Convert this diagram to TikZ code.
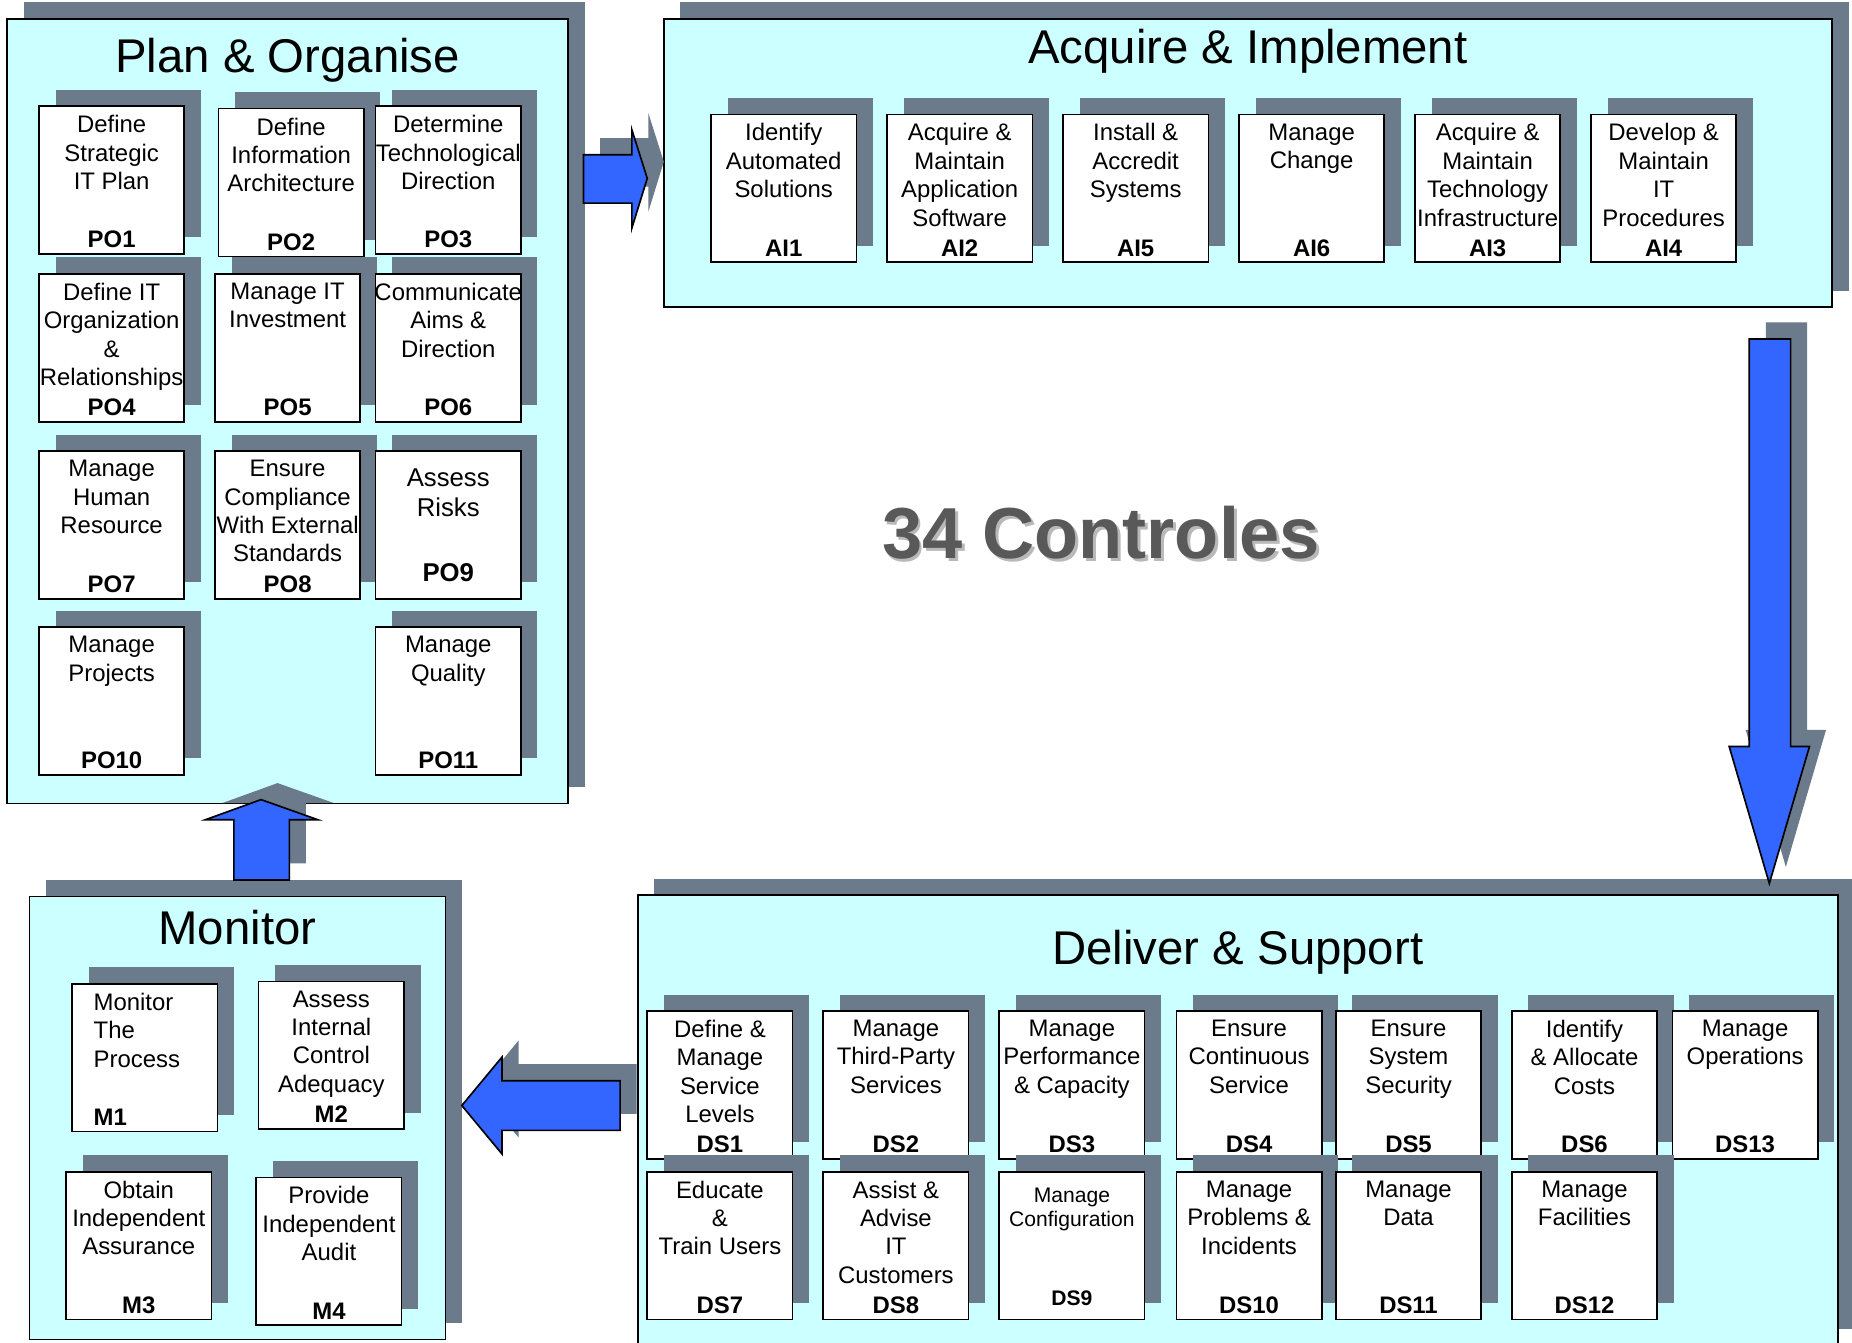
\documentclass[tikz,border=0pt]{standalone}
\usepackage{fontspec}
\setmainfont{Liberation Sans}
\usepackage{xcolor}
\usepackage{tikz}
\usetikzlibrary{positioning,shadows}
\definecolor{panelcyan}{RGB}{204,255,255}
\definecolor{shadegrey}{RGB}{107,123,139}
\definecolor{arrowblue}{RGB}{51,102,255}
\definecolor{countgrey}{RGB}{89,89,89}
\definecolor{countlight}{RGB}{185,185,185}

\begin{document}
\begin{tikzpicture}[x=0.025cm, y=-0.025cm,
  greyshadow/.style={drop shadow={shadow xshift=0.35cm, shadow yshift=0.35cm, opacity=1, fill=shadegrey}},
  panel/.style={greyshadow, draw=black, line width=1pt, fill=panelcyan, anchor=north west, inner sep=0pt, outer sep=0pt},
  ctrlbox/.style={greyshadow, draw=black, line width=1pt, fill=white, anchor=north west, minimum width=3.075cm, minimum height=3.125cm, inner sep=0pt, outer sep=0pt},
  boxtext/.style={align=center, inner sep=0pt, font=\fontsize{14.4}{17.1}\selectfont, execute at begin node=\strut},
  boxcode/.style={inner sep=0pt, text depth=0pt, font=\fontsize{14.4}{17.1}\selectfont\bfseries},
  phasetitle/.style={anchor=base, inner sep=0pt, font=\fontsize{28.5}{34}\selectfont},
  blockarrow/.style={draw=black, line width=1pt, fill=arrowblue, line join=miter},
  arrowshadow/.style={fill=shadegrey, xshift=0.35cm, yshift=0.35cm}]
  \useasboundingbox (0,0) rectangle (1568,1137);

  \node[panel, minimum width=11.875cm, minimum height=16.6cm] (po) at (6,16) {};
  \node[panel, minimum width=24.725cm, minimum height=6.1cm] (ai) at (562,16) {};
  \node[panel, minimum width=8.8cm, minimum height=9.375cm] (mo) at (25,759) {};
  \node[panel, minimum width=25.4cm, minimum height=9.525cm] (ds) at (540,758) {};

  \node[phasetitle] (potitle) at (243.5,61.5) {Plan \& Organise};
  \node[phasetitle] (aititle) at (1056.5,54) {Acquire \& Implement};
  \node[phasetitle] (motitle) at (201,799.5) {Monitor};
  \node[phasetitle] (dstitle) at (1048,817) {Deliver \& Support};

  \node[ctrlbox] (po1) at (33,90) {};
  \node[boxtext, below=0.185cm of po1.north] (po1t) {Define\\Strategic\\IT Plan};
  \node[boxcode, above=0.125cm of po1.south] (po1c) {PO1};
  \node[ctrlbox] (po2) at (185,92) {};
  \node[boxtext, below=0.185cm of po2.north] (po2t) {Define\\Information\\Architecture};
  \node[boxcode, above=0.125cm of po2.south] (po2c) {PO2};
  \node[ctrlbox] (po3) at (318,90) {};
  \node[boxtext, below=0.185cm of po3.north] (po3t) {Determine\\Technological\\Direction};
  \node[boxcode, above=0.125cm of po3.south] (po3c) {PO3};
  \node[ctrlbox] (po4) at (33,232) {};
  \node[boxtext, below=0.185cm of po4.north] (po4t) {Define IT\\Organization\\\&\\Relationships};
  \node[boxcode, above=0.125cm of po4.south] (po4c) {PO4};
  \node[ctrlbox] (po5) at (182,232) {};
  \node[boxtext, below=0.185cm of po5.north] (po5t) {Manage IT\\Investment};
  \node[boxcode, above=0.125cm of po5.south] (po5c) {PO5};
  \node[ctrlbox] (po6) at (318,232) {};
  \node[boxtext, below=0.185cm of po6.north] (po6t) {Communicate\\Aims \&\\Direction};
  \node[boxcode, above=0.125cm of po6.south] (po6c) {PO6};
  \node[ctrlbox] (po7) at (33,382) {};
  \node[boxtext, below=0.185cm of po7.north] (po7t) {Manage\\Human\\Resource};
  \node[boxcode, above=0.125cm of po7.south] (po7c) {PO7};
  \node[ctrlbox] (po8) at (182,382) {};
  \node[boxtext, below=0.185cm of po8.north] (po8t) {Ensure\\Compliance\\With External\\Standards};
  \node[boxcode, above=0.125cm of po8.south] (po8c) {PO8};
  \node[ctrlbox] (po9) at (318,382) {};
  \node[boxtext, font=\fontsize{15.5}{18.1}\selectfont, below=0.36cm of po9.north] (po9t) {Assess\\Risks};
  \node[boxcode, font=\fontsize{15.5}{18.1}\selectfont\bfseries, above=0.35cm of po9.south] (po9c) {PO9};
  \node[ctrlbox] (po10) at (33,531) {};
  \node[boxtext, below=0.185cm of po10.north] (po10t) {Manage\\Projects};
  \node[boxcode, above=0.125cm of po10.south] (po10c) {PO10};
  \node[ctrlbox] (po11) at (318,531) {};
  \node[boxtext, below=0.185cm of po11.north] (po11t) {Manage\\Quality};
  \node[boxcode, above=0.125cm of po11.south] (po11c) {PO11};

  \node[ctrlbox] (ai1) at (602,97) {};
  \node[boxtext, below=0.185cm of ai1.north] (ai1t) {Identify\\Automated\\Solutions};
  \node[boxcode, above=0.125cm of ai1.south] (ai1c) {AI1};
  \node[ctrlbox] (ai2) at (751,97) {};
  \node[boxtext, below=0.185cm of ai2.north] (ai2t) {Acquire \&\\Maintain\\Application\\Software};
  \node[boxcode, above=0.125cm of ai2.south] (ai2c) {AI2};
  \node[ctrlbox] (ai5) at (900,97) {};
  \node[boxtext, below=0.185cm of ai5.north] (ai5t) {Install \&\\Accredit\\Systems};
  \node[boxcode, above=0.125cm of ai5.south] (ai5c) {AI5};
  \node[ctrlbox] (ai6) at (1049,97) {};
  \node[boxtext, below=0.185cm of ai6.north] (ai6t) {Manage\\Change};
  \node[boxcode, above=0.125cm of ai6.south] (ai6c) {AI6};
  \node[ctrlbox] (ai3) at (1198,97) {};
  \node[boxtext, below=0.185cm of ai3.north] (ai3t) {Acquire \&\\Maintain\\Technology\\Infrastructure};
  \node[boxcode, above=0.125cm of ai3.south] (ai3c) {AI3};
  \node[ctrlbox] (ai4) at (1347,97) {};
  \node[boxtext, below=0.185cm of ai4.north] (ai4t) {Develop \&\\Maintain\\IT\\Procedures};
  \node[boxcode, above=0.125cm of ai4.south] (ai4c) {AI4};

  \node[ctrlbox] (ds1) at (548,856) {};
  \node[boxtext, below=0.185cm of ds1.north] (ds1t) {Define \&\\Manage\\Service\\Levels};
  \node[boxcode, above=0.125cm of ds1.south] (ds1c) {DS1};
  \node[ctrlbox] (ds2) at (697,856) {};
  \node[boxtext, below=0.185cm of ds2.north] (ds2t) {Manage\\Third-Party\\Services};
  \node[boxcode, above=0.125cm of ds2.south] (ds2c) {DS2};
  \node[ctrlbox] (ds3) at (846,856) {};
  \node[boxtext, below=0.185cm of ds3.north] (ds3t) {Manage\\Performance\\\& Capacity};
  \node[boxcode, above=0.125cm of ds3.south] (ds3c) {DS3};
  \node[ctrlbox] (ds4) at (996,856) {};
  \node[boxtext, below=0.185cm of ds4.north] (ds4t) {Ensure\\Continuous\\Service};
  \node[boxcode, above=0.125cm of ds4.south] (ds4c) {DS4};
  \node[ctrlbox] (ds5) at (1131,856) {};
  \node[boxtext, below=0.185cm of ds5.north] (ds5t) {Ensure\\System\\Security};
  \node[boxcode, above=0.125cm of ds5.south] (ds5c) {DS5};
  \node[ctrlbox] (ds6) at (1280,856) {};
  \node[boxtext, below=0.185cm of ds6.north] (ds6t) {Identify\\\& Allocate\\Costs};
  \node[boxcode, above=0.125cm of ds6.south] (ds6c) {DS6};
  \node[ctrlbox] (ds13) at (1416,856) {};
  \node[boxtext, below=0.185cm of ds13.north] (ds13t) {Manage\\Operations};
  \node[boxcode, above=0.125cm of ds13.south] (ds13c) {DS13};
  \node[ctrlbox] (ds7) at (548,992) {};
  \node[boxtext, below=0.185cm of ds7.north] (ds7t) {Educate\\\&\\Train Users};
  \node[boxcode, above=0.125cm of ds7.south] (ds7c) {DS7};
  \node[ctrlbox] (ds8) at (697,992) {};
  \node[boxtext, below=0.185cm of ds8.north] (ds8t) {Assist \&\\Advise\\IT\\Customers};
  \node[boxcode, above=0.125cm of ds8.south] (ds8c) {DS8};
  \node[ctrlbox] (ds9) at (846,992) {};
  \node[boxtext, font=\fontsize{12.7}{14.9}\selectfont, below=0.33cm of ds9.north] (ds9t) {Manage\\Configuration};
  \node[boxcode, font=\fontsize{12.7}{14.9}\selectfont\bfseries, above=0.28cm of ds9.south] (ds9c) {DS9};
  \node[ctrlbox] (ds10) at (996,992) {};
  \node[boxtext, below=0.185cm of ds10.north] (ds10t) {Manage\\Problems \&\\Incidents};
  \node[boxcode, above=0.125cm of ds10.south] (ds10c) {DS10};
  \node[ctrlbox] (ds11) at (1131,992) {};
  \node[boxtext, below=0.185cm of ds11.north] (ds11t) {Manage\\Data};
  \node[boxcode, above=0.125cm of ds11.south] (ds11c) {DS11};
  \node[ctrlbox] (ds12) at (1280,992) {};
  \node[boxtext, below=0.185cm of ds12.north] (ds12t) {Manage\\Facilities};
  \node[boxcode, above=0.125cm of ds12.south] (ds12c) {DS12};

  \node[ctrlbox] (m1) at (61,833) {};
  \node[boxtext, align=left, below right=0.185cm and 0.45cm of m1.north west] (m1t) {Monitor\\The\\Process};
  \node[boxcode, above right=0.125cm and 0.45cm of m1.south west] (m1c) {M1};
  \node[ctrlbox] (m2) at (219,831) {};
  \node[boxtext, below=0.185cm of m2.north] (m2t) {Assess\\Internal\\Control\\Adequacy};
  \node[boxcode, above=0.125cm of m2.south] (m2c) {M2};
  \node[ctrlbox] (m3) at (56,992) {};
  \node[boxtext, below=0.185cm of m3.north] (m3t) {Obtain\\Independent\\Assurance};
  \node[boxcode, above=0.125cm of m3.south] (m3c) {M3};
  \node[ctrlbox] (m4) at (217,997) {};
  \node[boxtext, below=0.185cm of m4.north] (m4t) {Provide\\Independent\\Audit};
  \node[boxcode, above=0.125cm of m4.south] (m4c) {M4};

  \node[anchor=base, inner sep=0pt, text=countlight, font=\fontsize{43.5}{50}\selectfont\bfseries] (countshade) at (934.5,475) {34 Controles};
  \node[anchor=base, inner sep=0pt, text=countgrey, font=\fontsize{43.5}{50}\selectfont\bfseries] (count) at (932,472.7) {34 Controles};

  \fill[arrowshadow] (494,131) -- (535,131) -- (535,110) -- (548,151) -- (535,193) -- (535,172) -- (494,172) -- cycle;
  \draw[blockarrow] (494,131) -- (535,131) -- (535,110) -- (548,151) -- (535,193) -- (535,172) -- (494,172) -- cycle;
  \fill[arrowshadow] (1481,287) -- (1516,287) -- (1516,632) -- (1532,632) -- (1498,748) -- (1464,632) -- (1481,632) -- cycle;
  \draw[blockarrow] (1481,287) -- (1516,287) -- (1516,632) -- (1532,632) -- (1498,748) -- (1464,632) -- (1481,632) -- cycle;
  \fill[arrowshadow] (525,915) -- (425,915) -- (425,895) -- (391,936) -- (425,977) -- (425,957) -- (525,957) -- cycle;
  \draw[blockarrow] (525,915) -- (425,915) -- (425,895) -- (391,936) -- (425,977) -- (425,957) -- (525,957) -- cycle;
  \fill[arrowshadow] (198,745) -- (198,694) -- (174,694) -- (221,677) -- (269,694) -- (245,694) -- (245,745) -- cycle;
  \draw[blockarrow] (198,745) -- (198,694) -- (174,694) -- (221,677) -- (269,694) -- (245,694) -- (245,745) -- cycle;
\end{tikzpicture}
\end{document}
